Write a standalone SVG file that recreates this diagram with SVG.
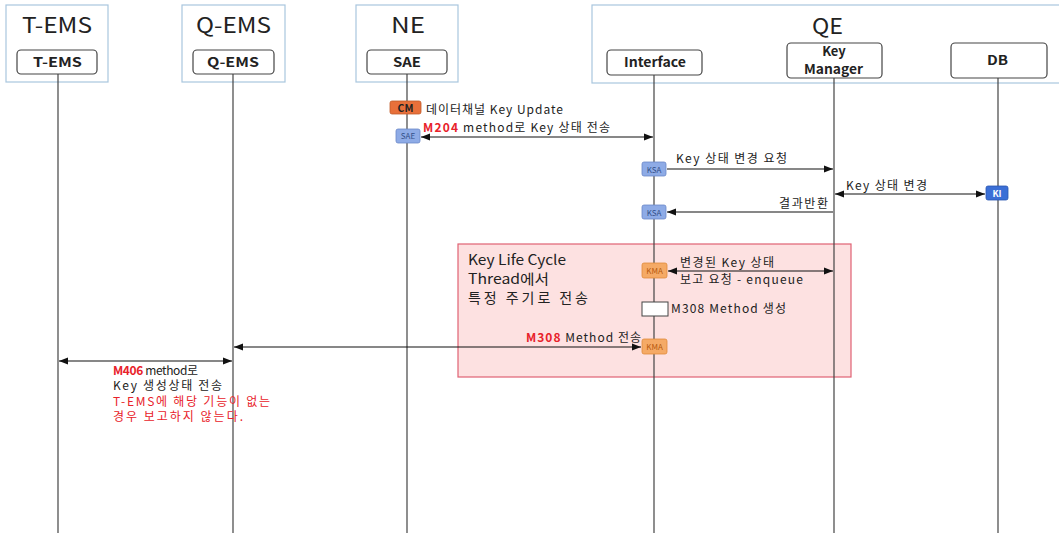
<svg xmlns="http://www.w3.org/2000/svg" width="1059" height="533" viewBox="0 0 1059 533">
<defs>
<marker id="ah" viewBox="0 0 10 10" refX="10" refY="5" markerWidth="9" markerHeight="9" markerUnits="userSpaceOnUse" orient="auto-start-reverse"><path d="M0,1 L10,5 L0,9 Z" fill="#111"/></marker>
</defs>
<style>
text{font-family:"Noto Sans CJK KR","Liberation Sans",sans-serif;fill:#222}
.grp{fill:#fff;stroke:#a9c6de;stroke-width:1.2}
.ttl{font-size:21px}
.inr{fill:#fff;stroke:#444;stroke-width:1.2}
.inrt{font-size:13px;font-weight:bold}
.life{stroke:#444;stroke-width:1.2}
.msg{stroke:#111;stroke-width:1.1;fill:none}
.lbl{font-size:12px}
.red{fill:#e8222a;font-weight:bold}
.bsae{fill:#8eabe6;stroke:#6b88c8;stroke-width:0.8}
.bkma{fill:#f5aa66;stroke:#e08a3a;stroke-width:0.8}
.bt{font-size:8px;text-anchor:middle}
</style>
<rect width="1059" height="533" fill="#fff"/>
<g id="region-lifecycle">
<rect x="458" y="244" width="393" height="133" fill="#fde1e1" stroke="#e06273" stroke-width="1.2"/>
<text x="468" y="265" font-size="14" textLength="98" lengthAdjust="spacingAndGlyphs">Key Life Cycle</text>
<text x="468" y="284" font-size="14" textLength="81" lengthAdjust="spacingAndGlyphs">Thread에서</text>
<text x="468" y="303" font-size="14" textLength="120" lengthAdjust="spacing">특정 주기로 전송</text>
</g>
<g id="node-tems">
<rect class="grp" x="6" y="5" width="102" height="77"/>
<text class="ttl" x="22" y="33" textLength="70" lengthAdjust="spacingAndGlyphs">T-EMS</text>
<rect class="inr" x="17" y="50" width="80" height="24" rx="4"/>
<text class="inrt" x="33" y="67" textLength="49" lengthAdjust="spacingAndGlyphs">T-EMS</text>
<line class="life" x1="58" y1="74" x2="58" y2="533"/>
</g>
<g id="node-qems">
<rect class="grp" x="182" y="5" width="103" height="77"/>
<text class="ttl" x="196" y="33" textLength="75" lengthAdjust="spacingAndGlyphs">Q-EMS</text>
<rect class="inr" x="193" y="50" width="81" height="24" rx="4"/>
<text class="inrt" x="207" y="67" textLength="52" lengthAdjust="spacingAndGlyphs">Q-EMS</text>
<line class="life" x1="233" y1="74" x2="233" y2="533"/>
</g>
<g id="node-ne">
<rect class="grp" x="356" y="5" width="102" height="77"/>
<text class="ttl" x="391" y="33" textLength="34" lengthAdjust="spacingAndGlyphs">NE</text>
<rect class="inr" x="367" y="50" width="80" height="24" rx="4"/>
<text class="inrt" x="393" y="67" textLength="28" lengthAdjust="spacingAndGlyphs">SAE</text>
<line class="life" x1="407" y1="74" x2="407" y2="533"/>
</g>
<g id="node-qe">
<rect class="grp" x="592" y="5" width="470" height="78"/>
<text class="ttl" x="812" y="34" textLength="31" lengthAdjust="spacingAndGlyphs">QE</text>
</g>
<g id="node-interface">
<rect class="inr" x="607" y="50" width="95" height="25" rx="4"/>
<text class="inrt" x="624" y="67" textLength="62" lengthAdjust="spacingAndGlyphs">Interface</text>
<line class="life" x1="654" y1="75" x2="654" y2="533"/>
</g>
<g id="node-keymanager">
<rect class="inr" x="787" y="43" width="95" height="35" rx="4"/>
<text class="inrt" x="834" y="56" text-anchor="middle" font-size="12.5">Key</text>
<text class="inrt" x="804" y="74" font-size="12.5" textLength="59" lengthAdjust="spacingAndGlyphs">Manager</text>
<line class="life" x1="834" y1="78" x2="834" y2="533"/>
</g>
<g id="node-db">
<rect class="inr" x="951" y="43" width="96" height="35" rx="4"/>
<text class="inrt" x="987" y="65" textLength="21" lengthAdjust="spacingAndGlyphs">DB</text>
<line class="life" x1="998" y1="78" x2="998" y2="533"/>
</g>
<g id="connectors">
<line class="msg" x1="421" y1="137" x2="653" y2="137" marker-start="url(#ah)" marker-end="url(#ah)"/>
<line class="msg" x1="667" y1="169" x2="833" y2="169" marker-end="url(#ah)"/>
<line class="msg" x1="835" y1="194" x2="985" y2="194" marker-start="url(#ah)" marker-end="url(#ah)"/>
<line class="msg" x1="833" y1="212" x2="667" y2="212" marker-end="url(#ah)"/>
<line class="msg" x1="668" y1="271" x2="833" y2="271" marker-start="url(#ah)" marker-end="url(#ah)"/>
<line class="msg" x1="234" y1="347" x2="641" y2="347" marker-start="url(#ah)" marker-end="url(#ah)"/>
<line class="msg" x1="59" y1="361" x2="232" y2="361" marker-start="url(#ah)" marker-end="url(#ah)"/>
</g>
<g id="badges">
<rect x="390" y="101" width="31" height="13" rx="2" fill="#e8703a" stroke="#c05a28" stroke-width="0.8"/>
<text x="405.5" y="111.5" font-size="10.5" font-weight="bold" text-anchor="middle">CM</text>
<rect class="bsae" x="396" y="129" width="24" height="14" rx="2"/>
<text class="bt" x="408" y="139" style="fill:#33508a">SAE</text>
<rect class="bsae" x="642" y="162" width="24" height="14" rx="2"/>
<text class="bt" x="654" y="172.5" style="fill:#33508a">KSA</text>
<rect class="bsae" x="642" y="205" width="24" height="14" rx="2"/>
<text class="bt" x="654" y="215.5" style="fill:#33508a">KSA</text>
<rect x="986" y="186" width="22" height="14" rx="2" fill="#3b6fd6" stroke="#2a55b0" stroke-width="0.8"/>
<text x="997" y="196.5" font-size="9" font-weight="bold" text-anchor="middle" style="fill:#fff">KI</text>
<rect class="bkma" x="642" y="263" width="25" height="15" rx="2"/>
<text class="bt" x="654.5" y="274" style="fill:#b85a10">KMA</text>
<rect x="642" y="302" width="26" height="14" fill="#fff" stroke="#444" stroke-width="1"/>
<rect class="bkma" x="642" y="339" width="25" height="15" rx="2"/>
<text class="bt" x="654.5" y="350" style="fill:#b85a10">KMA</text>
</g>
<g id="labels">
<text class="lbl" x="426" y="114" textLength="137" lengthAdjust="spacing">데이터채널 Key Update</text>
<text class="lbl" x="423" y="132" textLength="187" lengthAdjust="spacing"><tspan class="red">M204</tspan> method로 Key 상태 전송</text>
<text class="lbl" x="676" y="163" textLength="111" lengthAdjust="spacing">Key 상태 변경 요청</text>
<text class="lbl" x="846" y="190" textLength="81" lengthAdjust="spacing">Key 상태 변경</text>
<text class="lbl" x="779" y="208" textLength="49" lengthAdjust="spacing">결과반환</text>
<text class="lbl" x="680" y="267" textLength="94" lengthAdjust="spacing">변경된 Key 상태</text>
<text class="lbl" x="680" y="284" textLength="123" lengthAdjust="spacing">보고 요청 - enqueue</text>
<text class="lbl" x="671" y="313" textLength="115" lengthAdjust="spacing">M308 Method 생성</text>
<text class="lbl" x="526" y="342" textLength="115" lengthAdjust="spacing"><tspan class="red">M308</tspan> Method 전송</text>
<text class="lbl" x="113" y="375" textLength="85" lengthAdjust="spacing"><tspan class="red">M406</tspan> method로</text>
<text class="lbl" x="113" y="390" textLength="109" lengthAdjust="spacing">Key 생성상태 전송</text>
<text class="lbl" x="113" y="406" textLength="157" lengthAdjust="spacing" style="fill:#e8222a">T-EMS에 해당 기능이 없는</text>
<text class="lbl" x="113" y="421" textLength="130" lengthAdjust="spacing" style="fill:#e8222a">경우 보고하지 않는다.</text>
</g>
</svg>
